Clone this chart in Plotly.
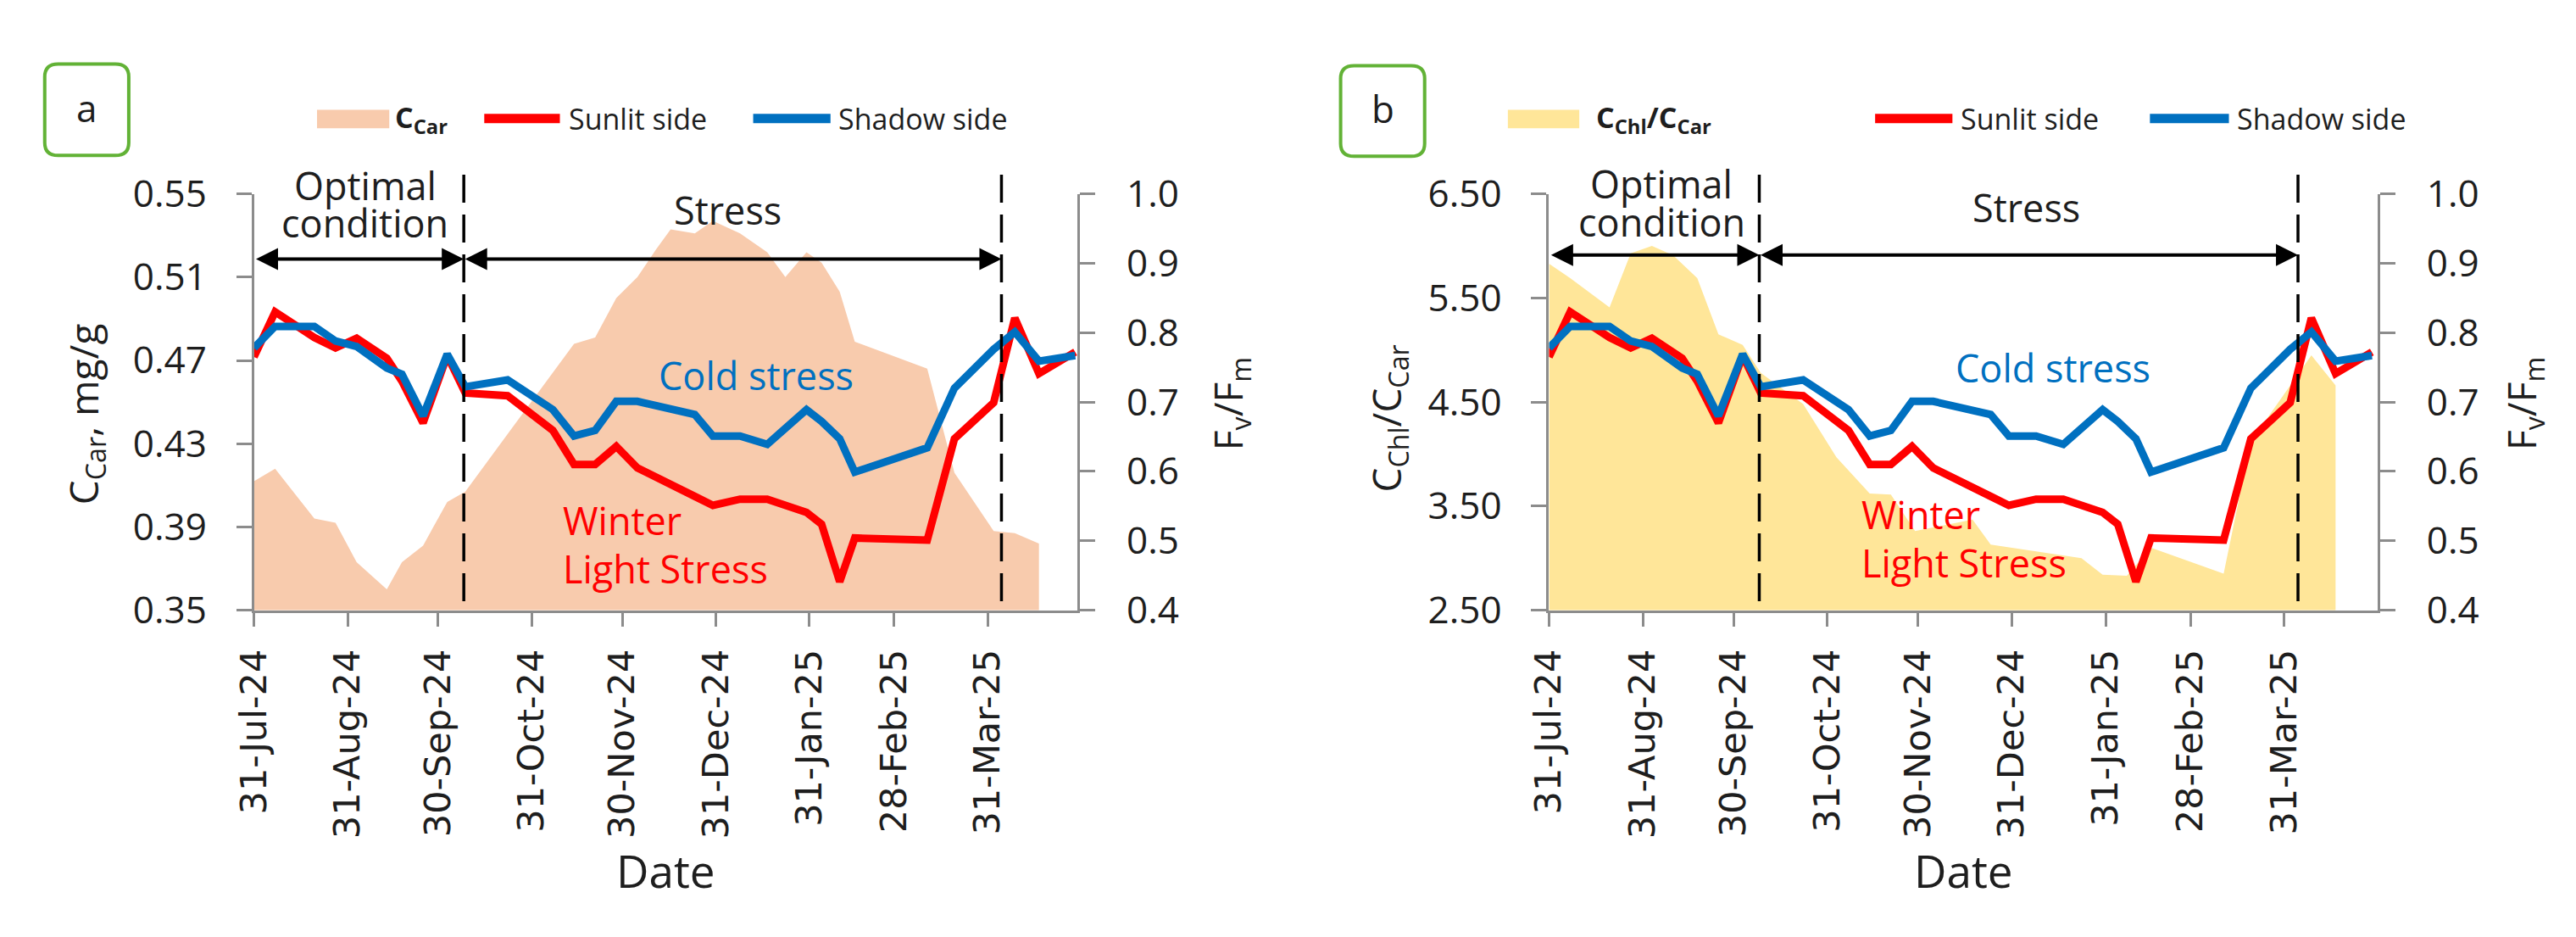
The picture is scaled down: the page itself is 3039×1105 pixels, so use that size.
import plotly.graph_objects as go

W, H = 3039, 1105

# Fv/Fm measurement dates and values (same in both panels)
line_dates = ["2024-07-31", "2024-08-07", "2024-08-20", "2024-08-27", "2024-09-03",
              "2024-09-13", "2024-09-18", "2024-09-25", "2024-10-03", "2024-10-09",
              "2024-10-23", "2024-11-07", "2024-11-14", "2024-11-21", "2024-11-28",
              "2024-12-05", "2024-12-24", "2024-12-30", "2025-01-08", "2025-01-17",
              "2025-01-30", "2025-02-04", "2025-02-10", "2025-02-15", "2025-03-11",
              "2025-03-20", "2025-04-02", "2025-04-09", "2025-04-17", "2025-04-29"]
sunlit_fvfm = [0.765, 0.830, 0.793, 0.778, 0.792, 0.763, 0.730, 0.670, 0.767, 0.713,
               0.709, 0.659, 0.610, 0.610, 0.636, 0.605, 0.564, 0.551, 0.560, 0.560,
               0.541, 0.524, 0.441, 0.504, 0.501, 0.647, 0.699, 0.821, 0.741, 0.772]
shadow_fvfm = [0.778, 0.809, 0.809, 0.788, 0.780, 0.749, 0.740, 0.680, 0.769, 0.722,
               0.732, 0.689, 0.651, 0.659, 0.701, 0.701, 0.682, 0.651, 0.651, 0.639,
               0.689, 0.672, 0.647, 0.599, 0.634, 0.720, 0.776, 0.801, 0.759, 0.767]

# carotenoid content (panel a)
car_dates = ["2024-07-31", "2024-08-07", "2024-08-20", "2024-08-27", "2024-09-03",
             "2024-09-13", "2024-09-18", "2024-09-25", "2024-10-03", "2024-10-09",
             "2024-11-14", "2024-11-21", "2024-11-28", "2024-12-05", "2024-12-11",
             "2024-12-16", "2024-12-24", "2024-12-30", "2025-01-08", "2025-01-17",
             "2025-01-23", "2025-01-30", "2025-02-04", "2025-02-10", "2025-02-15",
             "2025-03-11", "2025-03-20", "2025-04-02", "2025-04-09", "2025-04-17"]
c_car = [0.412, 0.418, 0.394, 0.392, 0.373, 0.360, 0.373, 0.381, 0.402, 0.407,
         0.478, 0.481, 0.500, 0.510, 0.523, 0.533, 0.531, 0.537, 0.531, 0.522,
         0.510, 0.522, 0.517, 0.503, 0.479, 0.466, 0.416, 0.388, 0.387, 0.382]

# chlorophyll / carotenoid ratio (panel b)
ratio_dates = ["2024-07-31", "2024-08-07", "2024-08-20", "2024-08-27", "2024-09-03",
               "2024-09-10", "2024-09-18", "2024-09-25", "2024-10-03", "2024-10-09",
               "2024-10-23", "2024-11-03", "2024-11-14", "2024-11-21", "2024-11-29",
               "2024-12-18", "2024-12-24", "2024-12-31", "2025-01-23", "2025-01-30",
               "2025-02-07", "2025-02-15", "2025-03-11", "2025-03-20", "2025-04-09",
               "2025-04-17"]
chl_car = [5.83, 5.69, 5.41, 5.93, 6.00, 5.91, 5.69, 5.15, 5.05, 4.78,
           4.48, 3.97, 3.62, 3.61, 3.26, 3.37, 3.13, 3.10, 3.00, 2.84,
           2.83, 3.10, 2.85, 4.12, 4.95, 4.66]

tick_dates = ["2024-07-31", "2024-08-31", "2024-09-30", "2024-10-31", "2024-11-30",
              "2024-12-31", "2025-01-31", "2025-02-28", "2025-03-31"]
tick_text = ["31-Jul-24", "31-Aug-24", "30-Sep-24", "31-Oct-24", "30-Nov-24",
             "31-Dec-24", "31-Jan-25", "28-Feb-25", "31-Mar-25"]

phase_start = "2024-07-31 06:00"
phase_split = "2024-10-08 12:00"
phase_end = "2025-04-04 14:00"

RED = "#FF0000"
BLUE = "#0070C0"
GREY = "#8C8C8C"
TXT = "#1E1E1E"
GREEN = "#62B236"
FONT = "Open Sans"


def px(x):
    return x / W


def py(y):
    return 1 - y / H


panels = [
    dict(tag="a", left=276, right=1256, xend="2025-04-29 19:00",
         adates=car_dates, avals=c_car, afill="#F8CBAD",
         yrange=[0.35, 0.55], dtick=0.04, fmt=".2f",
         atitle="C<sub>Car</sub>, mg/g", ltitle_x=75, ltitle_y=482, rtitle_x=1438,
         legname="<b>C<sub>Car</sub></b>",
         leg=[351, 437, 442, 550, 640, 649, 870, 962, 969],
         box=[27, 127, 46, 160], opt_x=408, opt_y=[197, 244], stress=[840, 228],
         cold=[873, 434], winter=[641, 615, 675], arrow_y=0.906, date_x=766),
    dict(tag="b", left=1817, right=2803, xend="2025-04-30 22:00",
         adates=ratio_dates, avals=chl_car, afill="#FFE699",
         yrange=[2.5, 6.5], dtick=1.0, fmt=".2f",
         atitle="C<sub>Chl</sub>/C<sub>Car</sub>", ltitle_x=1625, ltitle_y=488,
         rtitle_x=2977,
         legname="<b>C<sub>Chl</sub>/C<sub>Car</sub></b>",
         leg=[1768, 1853, 1871, 2205, 2297, 2305, 2532, 2626, 2634],
         box=[1569, 1669, 48, 161], opt_x=1951, opt_y=[195, 243], stress=[2385, 225],
         cold=[2417, 425], winter=[2187, 607, 668], arrow_y=0.912, date_x=2310),
]

fig = go.Figure()
shapes = []
annotations = []
layout = dict(width=W, height=H, autosize=False,
              margin=dict(l=0, r=0, t=0, b=0, pad=0),
              paper_bgcolor="white", plot_bgcolor="white", showlegend=False)

y_dom = [py(727), py(208)]

for i, p in enumerate(panels):
    xa = "x" if i == 0 else "x2"
    ya = "y" if i == 0 else "y3"
    yb = "y2" if i == 0 else "y4"
    xkey = "xaxis" if i == 0 else "xaxis2"
    ykey = "yaxis" if i == 0 else "yaxis3"
    ybkey = "yaxis2" if i == 0 else "yaxis4"

    fig.add_trace(go.Scatter(x=p["adates"], y=p["avals"], mode="lines",
                             fill="tozeroy", fillcolor=p["afill"],
                             line=dict(width=0, color=p["afill"]),
                             xaxis=xa, yaxis=ya, hoverinfo="skip"))
    fig.add_trace(go.Scatter(x=line_dates, y=sunlit_fvfm, mode="lines",
                             line=dict(color=RED, width=9), xaxis=xa, yaxis=yb))
    fig.add_trace(go.Scatter(x=line_dates, y=shadow_fvfm, mode="lines",
                             line=dict(color=BLUE, width=9), xaxis=xa, yaxis=yb))

    axis_common = dict(showgrid=False, zeroline=False, showline=True,
                       linecolor=GREY, linewidth=3, ticks="outside",
                       tickcolor=GREY, tickwidth=3)
    layout[xkey] = dict(axis_common, domain=[px(p["left"]), px(p["right"])],
                        anchor=ya, type="date",
                        range=["2024-07-31", p["xend"]],
                        tickmode="array", tickvals=tick_dates, ticktext=tick_text,
                        tickangle=-90, ticklen=16, ticklabelstandoff=10,
                        tickfont=dict(family="DejaVu Sans", size=43, color=TXT))
    layout[ykey] = dict(axis_common, domain=y_dom, anchor=xa,
                        range=p["yrange"], tick0=p["yrange"][0], dtick=p["dtick"],
                        tickformat=p["fmt"], ticklen=18, ticklabelstandoff=26,
                        tickfont=dict(family=FONT, size=44, color=TXT))
    layout[ybkey] = dict(axis_common, domain=y_dom, anchor=xa, overlaying=ya,
                         side="right", range=[0.4, 1.0], tick0=0.4, dtick=0.1,
                         tickformat=".1f", ticklen=18, ticklabelstandoff=28,
                         tickfont=dict(family=FONT, size=44, color=TXT))

    # phase boundaries
    for d in (phase_split, phase_end):
        shapes.append(dict(type="line", xref=xa, yref="paper", x0=d, x1=d,
                           y0=py(716), y1=py(183),
                           line=dict(color="black", width=3.5, dash="33px,14px")))

    # double-headed phase arrows
    for a0, a1 in ((phase_start, phase_split), (phase_split, phase_end)):
        annotations.append(dict(xref=xa, yref=yb, x=a1, y=p["arrow_y"],
                                axref=xa, ayref=yb, ax=a0, ay=p["arrow_y"],
                                text="", showarrow=True, arrowside="end+start",
                                arrowhead=2, arrowsize=1.3, arrowwidth=4,
                                arrowcolor="black", standoff=0, startstandoff=0))

    def txt(x, y, s, size=45, color=TXT, xanchor="center", angle=0, family=FONT):
        annotations.append(dict(xref="paper", yref="paper", x=px(x), y=py(y),
                                text=s, showarrow=False, xanchor=xanchor,
                                yanchor="middle", textangle=angle,
                                font=dict(family=family, size=size, color=color)))

    txt(p["opt_x"], p["opt_y"][0], "Optimal")
    txt(p["opt_x"], p["opt_y"][1], "condition")
    txt(p["stress"][0], p["stress"][1], "Stress")
    txt(p["cold"][0], p["cold"][1], "Cold stress", color=BLUE)
    txt(p["winter"][0], p["winter"][1], "Winter", color=RED, xanchor="left")
    txt(p["winter"][0], p["winter"][2], "Light Stress", color=RED, xanchor="left")

    # axis titles
    txt(p["ltitle_x"], p["ltitle_y"], p["atitle"], size=46, angle=-90)
    txt(p["rtitle_x"], 470, "F<sub>v</sub>/F<sub>m</sub>", size=46, angle=-90)
    txt(p["date_x"], 1052, "Date", size=53)

    # legend
    lg = p["leg"]
    shapes.append(dict(type="rect", xref="paper", yref="paper",
                       x0=px(lg[0]), x1=px(lg[1]), y0=py(126), y1=py(103),
                       fillcolor=p["afill"], line=dict(width=0)))
    txt(lg[2], 114, p["legname"], size=34, xanchor="left")
    shapes.append(dict(type="line", xref="paper", yref="paper",
                       x0=px(lg[3]), x1=px(lg[4]), y0=py(114), y1=py(114),
                       line=dict(color=RED, width=11)))
    txt(lg[5], 114, "Sunlit side", size=34, xanchor="left")
    shapes.append(dict(type="line", xref="paper", yref="paper",
                       x0=px(lg[6]), x1=px(lg[7]), y0=py(114), y1=py(114),
                       line=dict(color=BLUE, width=11)))
    txt(lg[8], 114, "Shadow side", size=34, xanchor="left")

    # panel letter in a rounded green box
    bx0, bx1, by0, by1 = p["box"]
    r = 16
    path = (f"M {px(bx0 + r)},{py(by0)} L {px(bx1 - r)},{py(by0)} "
            f"Q {px(bx1)},{py(by0)} {px(bx1)},{py(by0 + r)} "
            f"L {px(bx1)},{py(by1 - r)} Q {px(bx1)},{py(by1)} {px(bx1 - r)},{py(by1)} "
            f"L {px(bx0 + r)},{py(by1)} Q {px(bx0)},{py(by1)} {px(bx0)},{py(by1 - r)} "
            f"L {px(bx0)},{py(by0 + r)} Q {px(bx0)},{py(by0)} {px(bx0 + r)},{py(by0)} Z")
    shapes.append(dict(type="path", xref="paper", yref="paper", path=path,
                       line=dict(color=GREEN, width=4)))
    txt((bx0 + bx1) / 2, (by0 + by1) / 2 - 3, p["tag"], size=44)

layout["shapes"] = shapes
layout["annotations"] = annotations
fig.update_layout(**layout)

# drop the default page margin so the figure sits at the window's top-left corner
fig.write_html("out.html", config={"displayModeBar": False},
               post_script="document.body.style.margin='0';")
